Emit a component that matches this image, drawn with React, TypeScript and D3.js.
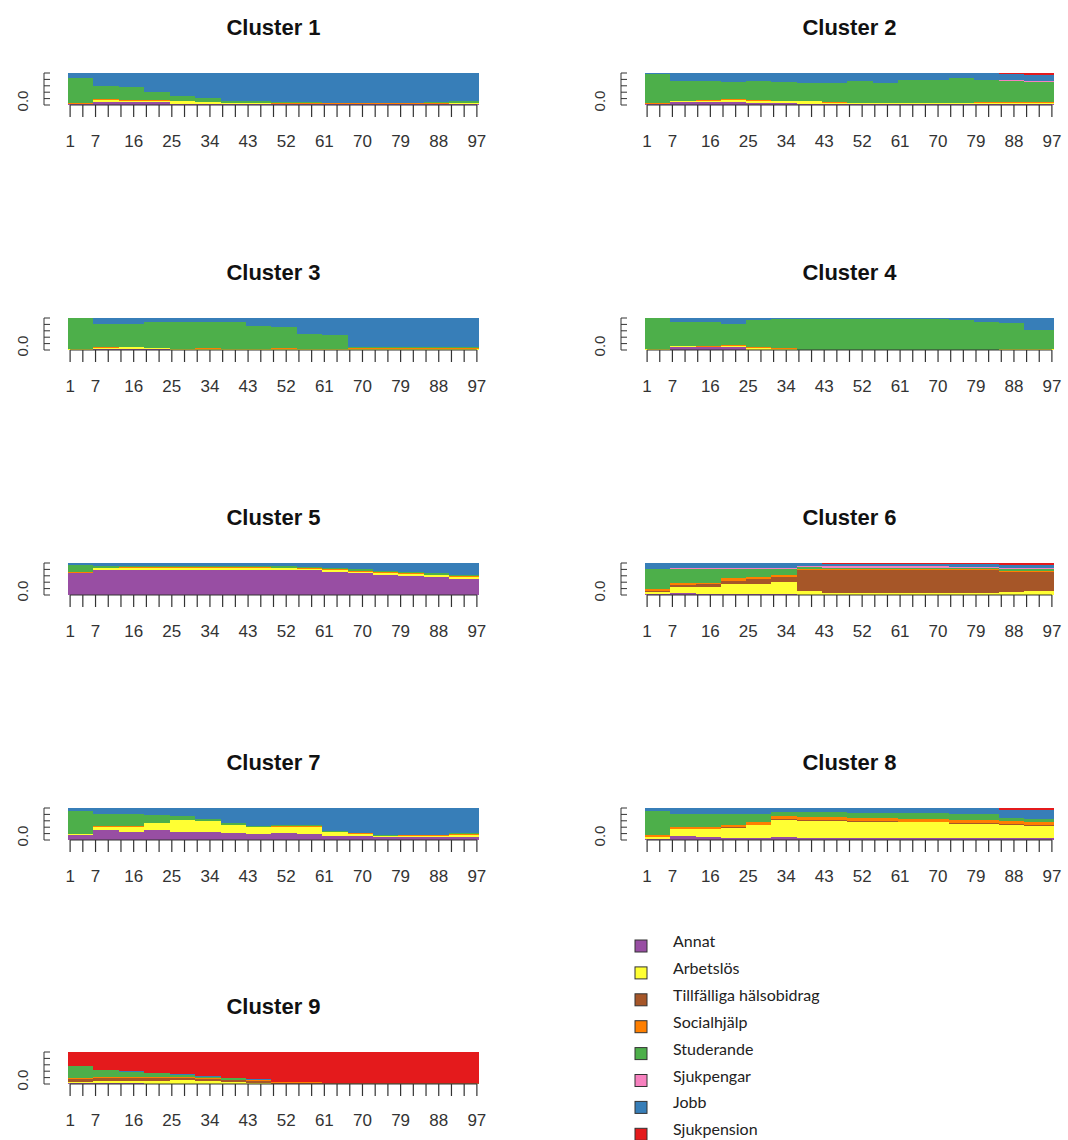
import React from "react";
import * as d3 from "d3";

const STATES = ["Annat", "Arbetslös", "Tillfälliga hälsobidrag", "Socialhjälp", "Studerande", "Sjukpengar", "Jobb", "Sjukpension"];
const COLORS = ["#984EA3", "#FFFF33", "#A65628", "#FF7F00", "#4DAF4A", "#F781BF", "#377EB8", "#E41A1C"];

// month segments (start/end month of each block of columns)
const SEG_START = [1, 7, 13, 19, 25, 31, 37, 43, 49, 55, 61, 67, 73, 79, 85, 91];
const SEG_END = [6, 12, 18, 24, 30, 36, 42, 48, 54, 60, 66, 72, 78, 84, 90, 97];
const TICKS = [1, 4, 7, 10, 13, 16, 19, 22, 25, 28, 31, 34, 37, 40, 43, 46, 49, 52, 55, 58, 61, 64, 67, 70, 73, 76, 79, 82, 85, 88, 91, 94, 97];
const TICK_LABELS = [1, 7, 16, 25, 34, 43, 52, 61, 70, 79, 88, 97];
const Y_TICKS = [0, 0.2, 0.4, 0.6, 0.8, 1.0];

const NONE = [0, 0, 0, 0, 0, 0, 0, 0, 0, 0, 0, 0, 0, 0, 0, 0];

// rows: Annat, Arbetslös, Tillfälliga, Socialhjälp, Studerande, Sjukpengar, Jobb, Sjukpension
const cluster1 = [
  [0.02, 0.10, 0.08, 0.08, 0.04, 0.03, 0.02, 0.02, 0.02, 0.02, 0.02, 0.02, 0.02, 0.02, 0.02, 0.02],
  [0.02, 0.05, 0.05, 0.05, 0.07, 0.06, 0.04, 0.03, 0.02, 0.02, 0.02, 0.02, 0.02, 0.02, 0.02, 0.04],
  NONE,
  [0.01, 0.05, 0.04, 0.03, 0.02, 0.01, 0.01, 0.01, 0.01, 0.01, 0.01, 0.01, 0.01, 0.01, 0.01, 0.01],
  [0.80, 0.40, 0.38, 0.26, 0.15, 0.11, 0.07, 0.05, 0.03, 0.03, 0.02, 0.02, 0.02, 0.02, 0.03, 0.04],
  NONE,
  [0.15, 0.40, 0.45, 0.58, 0.72, 0.79, 0.86, 0.89, 0.92, 0.92, 0.92, 0.92, 0.92, 0.92, 0.91, 0.89],
  [0, 0, 0, 0, 0, 0, 0, 0, 0, 0, 0, 0.01, 0.01, 0.01, 0.01, 0],
];
const cluster2 = [
  [0.02, 0.08, 0.08, 0.10, 0.07, 0.06, 0.03, 0.03, 0.03, 0.03, 0.03, 0.03, 0.03, 0.03, 0.03, 0.03],
  [0.02, 0.04, 0.06, 0.06, 0.07, 0.05, 0.08, 0.04, 0.03, 0.03, 0.03, 0.03, 0.03, 0.04, 0.04, 0.04],
  NONE,
  [0.01, 0.02, 0.02, 0.02, 0.02, 0.02, 0.01, 0.01, 0.01, 0.01, 0.01, 0.01, 0.01, 0.01, 0.01, 0.01],
  [0.93, 0.62, 0.60, 0.55, 0.58, 0.60, 0.58, 0.62, 0.68, 0.63, 0.72, 0.72, 0.76, 0.70, 0.68, 0.64],
  [0, 0, 0, 0, 0, 0, 0, 0, 0, 0, 0, 0, 0, 0.01, 0.02, 0.02],
  [0.02, 0.24, 0.24, 0.27, 0.26, 0.27, 0.30, 0.30, 0.25, 0.30, 0.23, 0.21, 0.17, 0.21, 0.19, 0.21],
  [0, 0, 0, 0, 0, 0, 0, 0, 0, 0, 0, 0, 0, 0, 0.03, 0.05],
];
const cluster3 = [
  [0.01, 0.03, 0.04, 0.02, 0.01, 0.01, 0.01, 0.01, 0.01, 0.01, 0.01, 0.01, 0.01, 0.01, 0.01, 0.01],
  [0.02, 0.04, 0.04, 0.03, 0.02, 0.03, 0.02, 0.02, 0.03, 0.02, 0.02, 0.03, 0.03, 0.03, 0.03, 0.03],
  NONE,
  [0, 0.02, 0.02, 0.01, 0.01, 0.01, 0.01, 0.01, 0.01, 0.01, 0.01, 0.01, 0.01, 0.01, 0.01, 0.01],
  [0.96, 0.73, 0.71, 0.80, 0.84, 0.84, 0.84, 0.71, 0.67, 0.47, 0.43, 0.04, 0.03, 0.03, 0.03, 0.05],
  NONE,
  [0.01, 0.18, 0.20, 0.14, 0.12, 0.11, 0.12, 0.25, 0.28, 0.48, 0.52, 0.91, 0.92, 0.92, 0.92, 0.90],
  NONE,
];
const cluster4 = [
  [0.01, 0.08, 0.08, 0.10, 0.01, 0.01, 0, 0, 0, 0, 0, 0, 0, 0, 0, 0],
  [0.01, 0.03, 0.02, 0.04, 0.05, 0.03, 0.01, 0.01, 0.01, 0.01, 0.01, 0.01, 0.01, 0.01, 0.03, 0.02],
  NONE,
  [0, 0.01, 0.01, 0.01, 0.02, 0.01, 0, 0, 0, 0, 0, 0, 0, 0, 0.01, 0.01],
  [0.97, 0.76, 0.77, 0.65, 0.87, 0.93, 0.97, 0.97, 0.97, 0.97, 0.97, 0.96, 0.92, 0.86, 0.81, 0.60],
  [0, 0, 0, 0, 0, 0, 0, 0, 0, 0, 0, 0.01, 0, 0, 0, 0],
  [0.01, 0.12, 0.12, 0.20, 0.05, 0.02, 0.02, 0.02, 0.02, 0.02, 0.02, 0.02, 0.06, 0.12, 0.15, 0.37],
  NONE,
];
const cluster5 = [
  [0.68, 0.79, 0.79, 0.79, 0.79, 0.79, 0.79, 0.79, 0.78, 0.77, 0.73, 0.68, 0.64, 0.60, 0.56, 0.50],
  [0.02, 0.04, 0.05, 0.04, 0.05, 0.04, 0.05, 0.04, 0.05, 0.05, 0.04, 0.05, 0.05, 0.05, 0.05, 0.05],
  NONE,
  [0.03, 0.02, 0.03, 0.03, 0.02, 0.03, 0.02, 0.03, 0.02, 0.02, 0.03, 0.03, 0.03, 0.03, 0.03, 0.03],
  [0.22, 0.06, 0.05, 0.05, 0.05, 0.04, 0.05, 0.05, 0.05, 0.05, 0.04, 0.04, 0.04, 0.04, 0.04, 0.05],
  NONE,
  [0.05, 0.09, 0.08, 0.09, 0.09, 0.10, 0.09, 0.09, 0.10, 0.11, 0.16, 0.20, 0.24, 0.28, 0.32, 0.37],
  NONE,
];
const cluster6 = [
  [0.02, 0.05, 0.03, 0.03, 0.02, 0.02, 0.01, 0.01, 0.01, 0.01, 0.01, 0.01, 0.01, 0.01, 0.01, 0.01],
  [0.08, 0.20, 0.22, 0.30, 0.33, 0.38, 0.10, 0.06, 0.06, 0.06, 0.06, 0.06, 0.05, 0.05, 0.08, 0.10],
  [0.04, 0.06, 0.08, 0.12, 0.15, 0.17, 0.66, 0.72, 0.72, 0.72, 0.72, 0.72, 0.70, 0.70, 0.62, 0.60],
  [0.06, 0.06, 0.05, 0.07, 0.06, 0.05, 0.04, 0.03, 0.03, 0.03, 0.03, 0.03, 0.03, 0.03, 0.04, 0.04],
  [0.60, 0.45, 0.44, 0.30, 0.26, 0.20, 0.06, 0.03, 0.03, 0.03, 0.03, 0.03, 0.03, 0.03, 0.04, 0.04],
  [0.02, 0.03, 0.03, 0.03, 0.03, 0.03, 0.04, 0.06, 0.06, 0.06, 0.06, 0.06, 0.05, 0.05, 0.04, 0.04],
  [0.18, 0.15, 0.15, 0.15, 0.15, 0.15, 0.09, 0.07, 0.07, 0.07, 0.07, 0.07, 0.08, 0.08, 0.10, 0.10],
  [0, 0, 0, 0, 0, 0, 0, 0.02, 0.02, 0.02, 0.02, 0.02, 0.04, 0.04, 0.06, 0.06],
];
const cluster7 = [
  [0.15, 0.30, 0.26, 0.30, 0.26, 0.24, 0.22, 0.20, 0.21, 0.20, 0.14, 0.12, 0.08, 0.08, 0.08, 0.08],
  [0.03, 0.12, 0.15, 0.22, 0.36, 0.34, 0.24, 0.20, 0.20, 0.22, 0.10, 0.08, 0.04, 0.05, 0.05, 0.08],
  NONE,
  [0.02, 0.02, 0.02, 0.02, 0.02, 0.02, 0.02, 0.02, 0.02, 0.02, 0.02, 0.01, 0.01, 0.02, 0.02, 0.03],
  [0.70, 0.38, 0.38, 0.24, 0.10, 0.06, 0.04, 0.03, 0.03, 0.03, 0.02, 0.02, 0.02, 0.02, 0.02, 0.02],
  NONE,
  [0.10, 0.18, 0.19, 0.22, 0.26, 0.34, 0.48, 0.55, 0.54, 0.53, 0.72, 0.77, 0.85, 0.83, 0.83, 0.79],
  NONE,
];
const cluster8 = [
  [0.03, 0.12, 0.08, 0.06, 0.06, 0.08, 0.05, 0.05, 0.05, 0.05, 0.05, 0.05, 0.05, 0.05, 0.05, 0.05],
  [0.07, 0.22, 0.26, 0.32, 0.40, 0.55, 0.55, 0.55, 0.52, 0.52, 0.50, 0.50, 0.45, 0.45, 0.42, 0.40],
  [0, 0, 0, 0.02, 0.02, 0.02, 0.02, 0.02, 0.02, 0.02, 0.02, 0.02, 0.02, 0.02, 0.02, 0.02],
  [0.05, 0.08, 0.08, 0.08, 0.08, 0.10, 0.10, 0.10, 0.10, 0.10, 0.10, 0.10, 0.10, 0.10, 0.10, 0.10],
  [0.75, 0.38, 0.38, 0.32, 0.26, 0.12, 0.14, 0.14, 0.16, 0.16, 0.17, 0.17, 0.18, 0.18, 0.10, 0.08],
  NONE,
  [0.10, 0.20, 0.20, 0.20, 0.18, 0.13, 0.14, 0.14, 0.15, 0.15, 0.16, 0.16, 0.20, 0.20, 0.26, 0.29],
  [0, 0, 0, 0, 0, 0, 0, 0, 0, 0, 0, 0, 0, 0, 0.05, 0.06],
];
const cluster9 = [
  [0.02, 0.02, 0.02, 0.01, 0.01, 0.01, 0.01, 0.01, 0, 0, 0, 0, 0, 0, 0, 0],
  [0.05, 0.06, 0.07, 0.08, 0.10, 0.08, 0.05, 0.03, 0.01, 0.01, 0.01, 0.01, 0.01, 0.01, 0.01, 0.01],
  [0.10, 0.10, 0.10, 0.10, 0.08, 0.07, 0.06, 0.05, 0.03, 0.03, 0.02, 0.02, 0.02, 0.02, 0.02, 0.02],
  [0.02, 0.03, 0.03, 0.02, 0.02, 0.02, 0.02, 0.02, 0.01, 0.01, 0, 0, 0, 0, 0, 0],
  [0.38, 0.22, 0.16, 0.12, 0.08, 0.05, 0.04, 0.02, 0.01, 0.01, 0, 0, 0, 0, 0, 0],
  NONE,
  [0, 0.02, 0.02, 0.01, 0.02, 0.01, 0.02, 0.02, 0.01, 0.01, 0, 0, 0, 0, 0, 0],
  [0.43, 0.55, 0.60, 0.66, 0.69, 0.76, 0.80, 0.85, 0.93, 0.93, 0.97, 0.97, 0.97, 0.97, 0.97, 0.97],
];

const CLUSTERS = [cluster1, cluster2, cluster3, cluster4, cluster5, cluster6, cluster7, cluster8, cluster9];
const TITLES = ["Cluster 1", "Cluster 2", "Cluster 3", "Cluster 4", "Cluster 5", "Cluster 6", "Cluster 7", "Cluster 8", "Cluster 9"];

const COL_X = [[68, 479], [645, 1054]];
const ROW_TOP = [73, 318, 563, 808, 1052];
const PANEL_H = 32;
const FONT = "'Liberation Sans', Arial, sans-serif";

function Panel({ title, rows, x0, x1, top }: { title: string; rows: number[][]; x0: number; x1: number; top: number }) {
  const x = d3.scaleLinear().domain([0.5, 97.5]).range([x0, x1]);
  const y = d3.scaleLinear().domain([0, 1]).range([top + PANEL_H, top]);
  const records = SEG_START.map((s, i) => {
    const r: any = { start: s, end: SEG_END[i] };
    STATES.forEach((k, j) => (r[k] = rows[j][i]));
    return r;
  });
  const series = d3.stack<any>().keys(STATES).offset(d3.stackOffsetExpand)(records);
  const bottom = top + PANEL_H;
  return (
    <g>
      <text x={(x0 + x1) / 2} y={top - 38} textAnchor="middle" fontFamily={FONT} fontWeight="bold" fontSize={22} fill="#111">
        {title}
      </text>
      {series.map((s, j) => (
        <g key={j} fill={COLORS[j]}>
          {s.map((d, i) =>
            d[1] - d[0] > 0 ? (
              <rect
                key={i}
                x={x(d.data.start - 0.5)}
                width={x(d.data.end + 0.5) - x(d.data.start - 0.5)}
                y={y(d[1])}
                height={y(d[0]) - y(d[1])}
                shapeRendering="crispEdges"
              />
            ) : null
          )}
        </g>
      ))}
      {/* x axis */}
      <line x1={x(1)} x2={x(97)} y1={bottom} y2={bottom} stroke="#333" strokeWidth={1.2} />
      {TICKS.map((t) => (
        <line key={t} x1={x(t)} x2={x(t)} y1={bottom} y2={bottom + 12} stroke="#333" strokeWidth={1.2} />
      ))}
      {TICK_LABELS.map((t) => (
        <text key={t} x={x(t)} y={bottom + 42} textAnchor="middle" fontFamily={FONT} fontSize={17} fill="#333">
          {t}
        </text>
      ))}
      {/* y axis */}
      <line x1={x0 - 24} x2={x0 - 24} y1={y(0)} y2={y(1)} stroke="#333" strokeWidth={1} />
      {Y_TICKS.map((t) => (
        <line key={t} x1={x0 - 24} x2={x0 - 18} y1={y(t)} y2={y(t)} stroke="#333" strokeWidth={1} />
      ))}
      <text
        transform={`translate(${x0 - 40},${y(0) - 4}) rotate(-90)`}
        textAnchor="middle"
        fontFamily={FONT}
        fontSize={15}
        fill="#333"
      >
        0.0
      </text>
    </g>
  );
}

export default function App() {
  const legendY0 = 947;
  const legendStep = 26.9;
  return (
    <svg width={1068} height={1140} style={{ position: "absolute", left: 0, top: 0, background: "#fff" }}>
      <rect x={0} y={0} width={1068} height={1140} fill="#fff" />
      {CLUSTERS.map((rows, k) => {
        const col = k % 2;
        const row = Math.floor(k / 2);
        return <Panel key={k} title={TITLES[k]} rows={rows} x0={COL_X[col][0]} x1={COL_X[col][1]} top={ROW_TOP[row]} />;
      })}
      {STATES.map((s, i) => (
        <g key={s}>
          <rect x={635} y={legendY0 + i * legendStep - 7} width={12} height={12} fill={COLORS[i]} stroke="#333" strokeWidth={1} />
          <text x={673} y={legendY0 + i * legendStep} fontFamily="Lato, 'Open Sans', sans-serif" fontSize={16} fill="#222">
            {s}
          </text>
        </g>
      ))}
    </svg>
  );
}
